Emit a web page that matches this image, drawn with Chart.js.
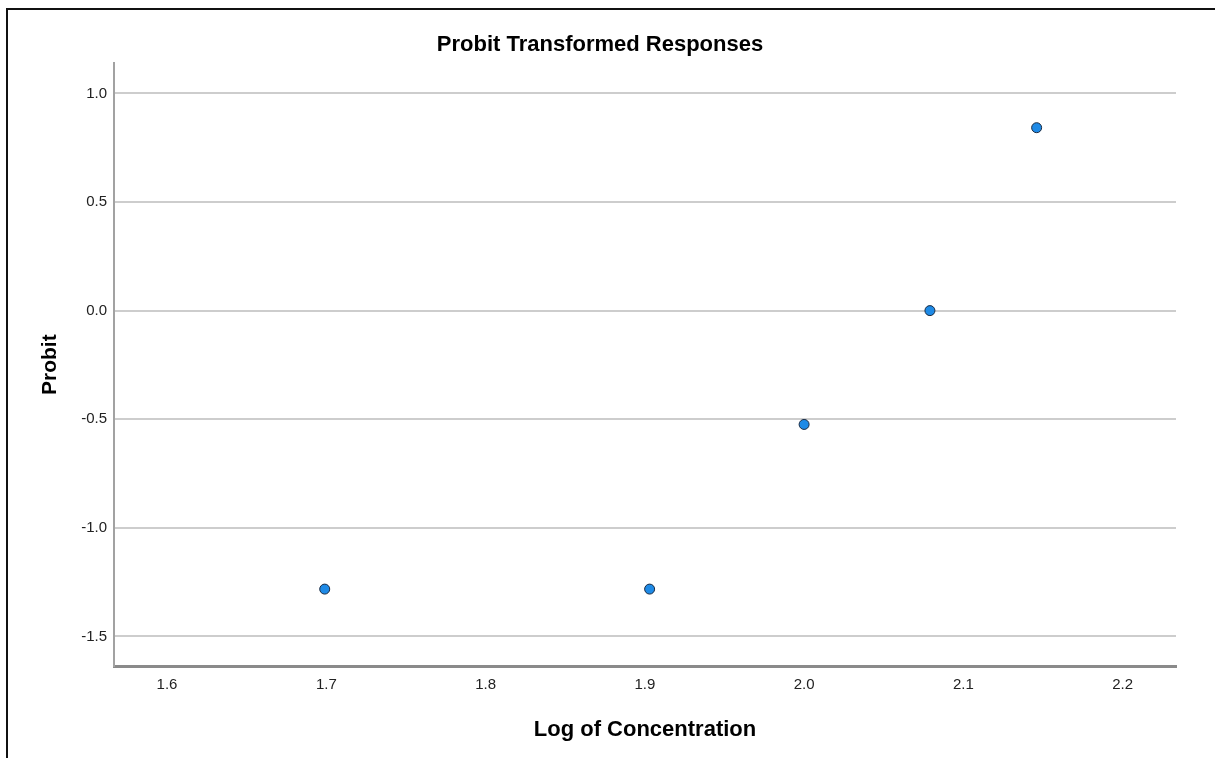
<!DOCTYPE html>
<html>
<head>
<meta charset="utf-8">
<title>Probit Transformed Responses</title>
<script src="https://cdn.jsdelivr.net/npm/chart.js"></script>
<style>
  body { margin: 0; background: #fff; }
  #wrap { position: relative; width: 1215px; height: 758px; overflow: hidden; }
  #frame { position: absolute; left: 6px; top: 8px; right: -4px; bottom: -4px;
           border-top: 2px solid #111; border-left: 2px solid #111; }
  canvas { position: absolute; left: 0; top: 0; }
</style>
</head>
<body>
<div id="wrap">
  <div id="frame"></div>
  <canvas id="probitChart" width="1215" height="758"></canvas>
</div>
<script>
// log10 of concentration and probit of observed response
var logConc = [1.699, 1.903, 2.000, 2.079, 2.146];
var probit = [-1.282, -1.282, -0.524, 0.000, 0.842];
var xTicks = [1.6, 1.7, 1.8, 1.9, 2.0, 2.1, 2.2];
var yTicks = [-1.5, -1.0, -0.5, 0.0, 0.5, 1.0];

var points = logConc.map(function (x, i) { return { x: x, y: probit[i] }; });
var fam = "Arial, 'Liberation Sans', sans-serif";

var ctx = document.getElementById("probitChart").getContext('2d');
var chart = new Chart(ctx, {
  type: 'scatter',
  data: {
    datasets: [{
      data: points,
      backgroundColor: '#1e8ae6',
      borderColor: '#1b2b42',
      borderWidth: 1,
      pointRadius: 5,
      pointHoverRadius: 5
    }]
  },
  options: {
    responsive: false,
    animation: false,
    devicePixelRatio: 1,
    layout: { padding: { left: 24, right: 39, top: 0, bottom: 0 } },
    plugins: {
      legend: { display: false },
      tooltip: { enabled: false },
      title: {
        display: true,
        text: 'Probit Transformed Responses',
        color: '#000',
        font: { family: fam, size: 22, weight: 'bold' },
        padding: { top: 32, bottom: 5 }
      }
    },
    scales: {
      x: {
        type: 'linear',
        min: 1.5667,
        max: 2.2335,
        afterBuildTicks: function (scale) {
          scale.ticks = xTicks.map(function (v) { return { value: v }; });
        },
        afterFit: function (scale) { scale.height = 92; },
        grid: { display: false, drawTicks: false },
        border: { display: true, color: '#8a8a8a', width: 3 },
        ticks: {
          color: '#222',
          padding: 10,
          font: { family: fam, size: 15 },
          callback: function (v) { return Number(v).toFixed(1); }
        },
        title: {
          display: true,
          text: 'Log of Concentration',
          color: '#000',
          font: { family: fam, size: 22, weight: 'bold' },
          padding: { top: 0, bottom: 15 }
        }
      },
      y: {
        type: 'linear',
        min: -1.636,
        max: 1.138,
        afterBuildTicks: function (scale) {
          scale.ticks = yTicks.map(function (v) { return { value: v }; });
        },
        afterFit: function (scale) { scale.width = 90; },
        grid: { color: '#cdcdcd', lineWidth: 2, drawTicks: false },
        border: { display: true, color: '#a2a2a2', width: 2 },
        ticks: {
          color: '#222',
          padding: 7,
          font: { family: fam, size: 15 },
          callback: function (v) { return Number(v).toFixed(1); }
        },
        title: {
          display: true,
          text: 'Probit',
          color: '#000',
          font: { family: fam, size: 21, weight: 'bold' },
          padding: { top: 14, bottom: 0 }
        }
      }
    }
  }
});
</script>
</body>
</html>
